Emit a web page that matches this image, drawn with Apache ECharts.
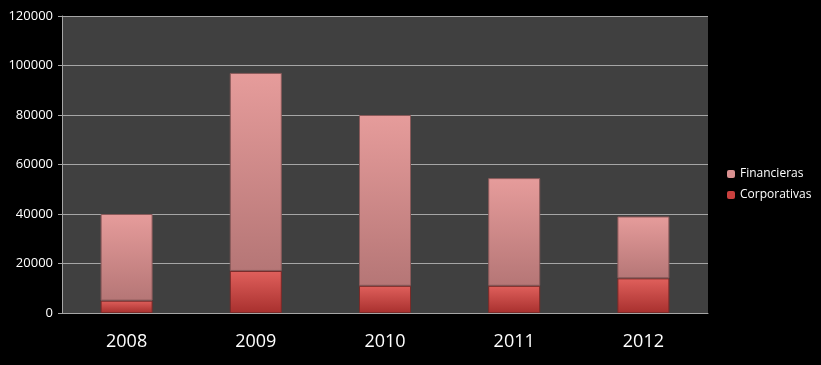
<!DOCTYPE html>
<html><head><meta charset="utf-8">
<script src="https://cdn.jsdelivr.net/npm/echarts@6/dist/echarts.min.js"></script>
<style>html,body{margin:0;padding:0;background:#000;}#c{width:821px;height:365px;}</style>
</head><body><div id="c"></div>
<script>
var categories = ['2008','2009','2010','2011','2012'];
var corporativas = [5000, 17000, 11000, 11000, 14000];
var financieras = [35000, 80000, 69000, 43500, 25000];
var yTicks = [0, 20000, 40000, 60000, 80000, 100000, 120000];

var chart = echarts.init(document.getElementById('c'));
function grad(top, bottom){
  return new echarts.graphic.LinearGradient(0,0,0,1,[{offset:0,color:top},{offset:1,color:bottom}]);
}
chart.setOption({
  backgroundColor:'#000000',
  animation:false,
  grid:{left:62, top:16, right:113, bottom:52, show:true, backgroundColor:'#404040', borderWidth:0},
  legend:{
    orient:'vertical', left:722, top:163, itemWidth:8, itemHeight:8, itemGap:9,
    textStyle:{color:'#ffffff', fontSize:12, fontFamily:'Open Sans'},
    data:[{name:'Financieras', itemStyle:{color:'#d99090', borderWidth:0}},{name:'Corporativas', itemStyle:{color:'#c9403e', borderWidth:0}}]
  },
  xAxis:{
    type:'category', data:categories,
    axisLine:{lineStyle:{color:'#a6a6a6'}},
    axisTick:{show:false},
    axisLabel:{color:'#ffffff', fontSize:18, fontFamily:'Open Sans', margin:20}
  },
  yAxis:{
    type:'value', min:yTicks[0], max:yTicks[yTicks.length-1], interval:20000,
    axisLine:{show:true, lineStyle:{color:'#a6a6a6'}},
    axisTick:{show:true, length:4, inside:false, lineStyle:{color:'#a6a6a6'}},
    splitLine:{lineStyle:{color:'#a6a6a6'}},
    axisLabel:{color:'#ffffff', fontSize:13, fontFamily:'Open Sans', margin:9,
      formatter:function(v){return String(v);}}
  },
  series:[
    {name:'Corporativas', type:'bar', stack:'t', data:corporativas, barWidth:52,
     itemStyle:{color:grad('#e0605c','#a8302e'), borderColor:'#7a2a28', borderWidth:1}},
    {name:'Financieras', type:'bar', stack:'t', data:financieras, barWidth:52,
     itemStyle:{color:grad('#e69c9b','#b57676'), borderColor:'#8a5a5a', borderWidth:1}}
  ]
});
</script></body></html>
